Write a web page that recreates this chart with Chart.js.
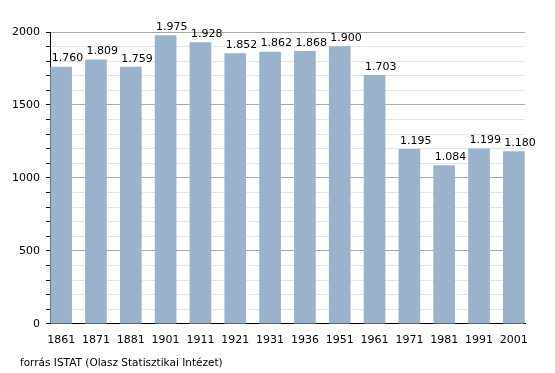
<!DOCTYPE html>
<html lang="hu">
<head>
	<meta charset="UTF-8">
	<title>Népesség</title>
	<script src="https://cdn.jsdelivr.net/npm/chart.js"></script>
	<style>
		body {
			margin: 0;
			padding: 0;
			background: #fff;
			font-family: "DejaVu Sans", sans-serif;
		}

		.wrap {
			position: relative;
			width: 555px;
			height: 373px;
		}

		.source {
			position: absolute;
			left: 20px;
			top: 356px;
			font-size: 10.5px;
			color: #000;
		}
	</style>
</head>
<body>
	<div class="wrap">
		<canvas id="popChart" width="555" height="373"></canvas>
		<div class="source">forrás ISTAT (Olasz Statisztikai Intézet)</div>
	</div>
	<script>
		// data
		const years = ['1861', '1871', '1881', '1901', '1911', '1921', '1931', '1936', '1951', '1961', '1971', '1981', '1991', '2001'];
		const population = [1760, 1809, 1759, 1975, 1928, 1852, 1862, 1868, 1900, 1703, 1195, 1084, 1199, 1180];
		const valueLabels = ['1.760', '1.809', '1.759', '1.975', '1.928', '1.852', '1.862', '1.868', '1.900', '1.703', '1.195', '1.084', '1.199', '1.180'];

		// labels on top of the bars, starting at the bar's left edge
		const barLabels = {
			id: 'barLabels',
			afterDatasetsDraw(chart) {
				const ctx = chart.ctx;
				const meta = chart.getDatasetMeta(0);
				ctx.save();
				ctx.font = '11px "DejaVu Sans", sans-serif';
				ctx.fillStyle = '#000';
				ctx.textAlign = 'left';
				ctx.textBaseline = 'bottom';
				meta.data.forEach((bar, i) => {
					ctx.fillText(valueLabels[i], bar.x - bar.width / 2 + 1, bar.y - 3);
				});
				ctx.restore();
			}
		};

		const ctx = document.getElementById('popChart').getContext('2d');
		new Chart(ctx, {
			type: 'bar',
			data: {
				datasets: [{
					data: population.map((v, i) => ({x: i, y: v})),
					backgroundColor: '#9ab2cb',
					borderWidth: 0,
					barThickness: 21
				}]
			},
			options: {
				responsive: false,
				animation: false,
				layout: {
					padding: {top: 32, right: 30, bottom: 24, left: 0}
				},
				plugins: {
					legend: {display: false},
					tooltip: {enabled: false}
				},
				scales: {
					x: {
						type: 'linear',
						offset: false,
						min: -0.32,
						max: 13.32,
						afterBuildTicks: scale => {
							scale.ticks = years.map((_, i) => ({value: i}));
						},
						grid: {display: false},
						border: {color: '#000', width: 1},
						ticks: {
							autoSkip: false,
							maxRotation: 0,
							padding: 2,
							color: '#000',
							font: {family: '"DejaVu Sans", sans-serif', size: 11},
							callback: v => years[v]
						}
					},
					y: {
						min: 0,
						max: 2000,
						afterFit: scale => {
							scale.width = 50;
						},
						grid: {
							color: c => (c.tick.value % 500 === 0 ? '#a8a8a8' : '#e4e4e4'),
							tickColor: '#000',
							tickLength: 4,
							drawTicks: true
						},
						border: {color: '#000', width: 1},
						ticks: {
							stepSize: 100,
							autoSkip: false,
							padding: 6,
							color: '#000',
							font: {family: '"DejaVu Sans", sans-serif', size: 11},
							callback: v => (v % 500 === 0 ? String(v) : '')
						}
					}
				}
			},
			plugins: [barLabels]
		});
	</script>
</body>
</html>
